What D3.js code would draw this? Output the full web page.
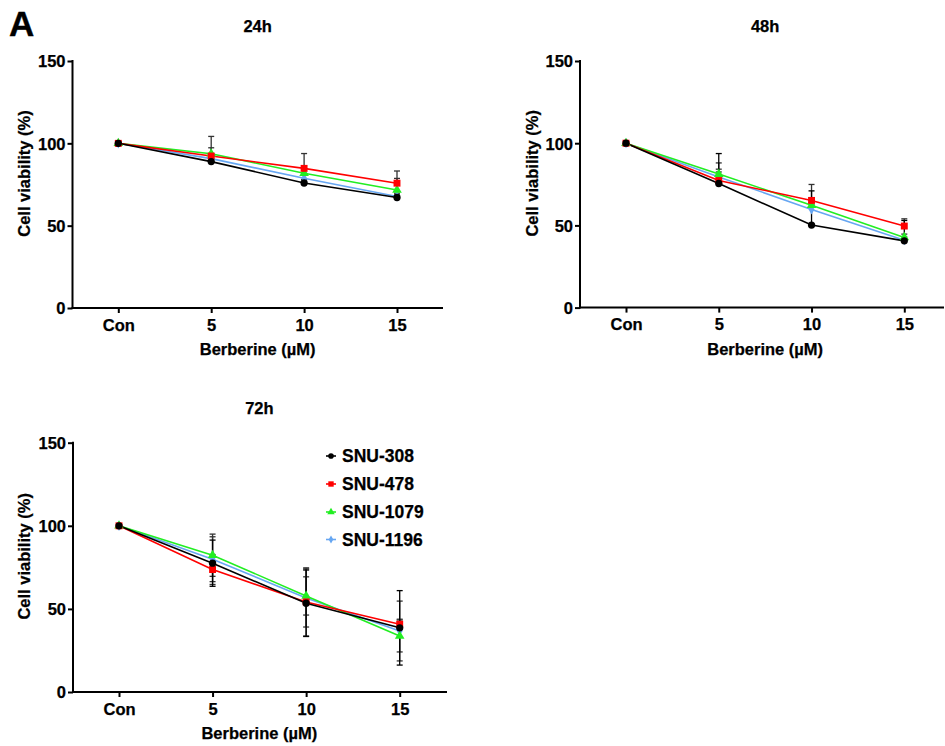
<!DOCTYPE html>
<html><head><meta charset="utf-8">
<script src="https://cdn.jsdelivr.net/npm/d3@7"></script>
<style>body{margin:0;background:#fff;} svg{display:block;} text{font-family:"Liberation Sans",Arial,sans-serif;font-weight:bold;fill:#000;stroke:#000;stroke-width:0.25px;}</style>
</head><body><svg id="c" width="945" height="746"></svg>
<script>
const categories = ["Con", "5", "10", "15"];
const seriesNames = ["SNU-308", "SNU-478", "SNU-1079", "SNU-1196"];
const yTicks = [0, 50, 100, 150];
const panelTitles = ["24h", "48h", "72h"];

// values: [SNU-308, SNU-478, SNU-1079, SNU-1196]
const values24h = [
  [100, 88.9, 75.9, 67.1],
  [100, 92.3, 84.8, 75.8],
  [100, 93.7, 81.8, 71.7],
  [100, 90.7, 78.8, 67.7]
];
const err24h = [
  [0, 2, 2, 1.5],
  [0, 5, 9, 7.4],
  [0, 10.5, 3, 7],
  [0, 3, 3, 2]
];
const values48h = [
  [100, 75.5, 50.2, 40.6],
  [100, 77.3, 65.2, 49.6],
  [100, 81.2, 62.3, 42.7],
  [100, 79.5, 59.7, 41.0]
];
const err48h = [
  [0, 18.2, 20.8, 12.4],
  [0, 10.7, 9.7, 4.4],
  [0, 3, 3, 2],
  [0, 3, 3, 2]
];
const values72h = [
  [100, 77.5, 53.4, 38.6],
  [100, 73.7, 54.2, 40.8],
  [100, 82.3, 57.8, 33.7],
  [100, 79.9, 56.6, 36.7]
];
const err72h = [
  [0, 13.9, 20, 22.4],
  [0, 9, 20.5, 3],
  [0, 12.7, 11.5, 9.6],
  [0, 13.5, 17.5, 18]
];

const colors = ["#000000", "#ff0000", "#22ee22", "#66a6f2"];
const shapes = [d3.symbolCircle, d3.symbolSquare, d3.symbolTriangle, d3.symbolDiamond];
const shapeSizes = [42, 48, 40, 30];

const panels = [
  {title: panelTitles[0], values: values24h, errs: err24h, both: false,
   left: 72.5, right: 443, top: 61, bottom: 308, xFirst: 118.3, xLast: 397, ylab: 24},
  {title: panelTitles[1], values: values48h, errs: err48h, both: false,
   left: 580, right: 944, top: 61, bottom: 307.6, xFirst: 626, xLast: 904.3, ylab: 532},
  {title: panelTitles[2], values: values72h, errs: err72h, both: true,
   left: 73, right: 447, top: 442.7, bottom: 692, xFirst: 119, xLast: 399.7, ylab: 24}
];

const svg = d3.select("#c");

svg.append("text").attr("x", 9).attr("y", 36).style("font-size", "35px").style("stroke-width", "0.4px").text("A");

panels.forEach((p, pi) => {
  const g = svg.append("g");
  const x = d3.scalePoint().domain(categories).range([p.xFirst, p.xLast]);
  const y = d3.scaleLinear().domain([0, 150]).range([p.bottom, p.top]);

  // title
  g.append("text").attr("x", (p.xFirst + p.xLast) / 2).attr("y", p.top - 29)
    .attr("text-anchor", "middle").style("font-size", "16.5px").text(p.title);

  // y axis
  const yAxis = d3.axisLeft(y).tickValues(yTicks).tickSize(5).tickPadding(2);
  const ya = g.append("g").attr("transform", `translate(${p.left},0)`).call(yAxis);
  ya.select(".domain").remove();
  ya.selectAll(".tick line").attr("stroke", "#000").attr("stroke-width", 2);
  ya.selectAll(".tick text").style("font-size", "16.5px").attr("dy", "0.36em");
  g.append("line").attr("x1", p.left).attr("x2", p.left).attr("y1", p.top - 1).attr("y2", p.bottom + 1)
    .attr("stroke", "#000").attr("stroke-width", 2);

  // x axis
  const xAxis = d3.axisBottom(x).tickSize(5).tickPadding(6);
  const xa = g.append("g").attr("transform", `translate(0,${p.bottom})`).call(xAxis);
  xa.select(".domain").remove();
  xa.selectAll(".tick line").attr("stroke", "#000").attr("stroke-width", 2);
  xa.selectAll(".tick text").style("font-size", "16.5px");
  g.append("line").attr("x1", p.left - 1).attr("x2", p.right).attr("y1", p.bottom).attr("y2", p.bottom)
    .attr("stroke", "#000").attr("stroke-width", 2);

  // axis labels
  g.append("text").attr("x", (p.xFirst + p.xLast) / 2).attr("y", p.bottom + 47)
    .attr("text-anchor", "middle").style("font-size", "16.5px").text("Berberine (\u00b5M)");
  g.append("text").attr("transform", `translate(${p.ylab},${(p.top + p.bottom) / 2 - 11}) rotate(-90)`)
    .attr("text-anchor", "middle").attr("dy", "0.35em").style("font-size", "16.5px").text("Cell viability  (%)");

  const order = [3, 2, 1, 0];
  // error bars
  order.forEach(si => {
    p.values[si].forEach((v, i) => {
      const e = p.errs[si][i];
      if (!e) return;
      const cx = x(categories[i]);
      const yt = y(v + e), yb = p.both ? y(v - e) : y(v);
      const eg = g.append("g").attr("stroke", si === 0 ? "#000" : "#333").attr("stroke-width", 1.3);
      eg.append("line").attr("x1", cx).attr("x2", cx).attr("y1", yt).attr("y2", yb);
      eg.append("line").attr("x1", cx - 3).attr("x2", cx + 3).attr("y1", yt).attr("y2", yt);
      if (p.both) eg.append("line").attr("x1", cx - 3).attr("x2", cx + 3).attr("y1", yb).attr("y2", yb);
    });
  });

  // lines
  const line = d3.line().x((d, i) => x(categories[i])).y(d => y(d));
  order.forEach(si => {
    g.append("path").datum(p.values[si]).attr("d", line).attr("fill", "none")
      .attr("stroke", colors[si]).attr("stroke-width", 1.6);
  });
  order.forEach(si => {
    g.selectAll(null).data(p.values[si]).enter().append("path")
      .attr("transform", (d, i) => `translate(${x(categories[i])},${y(d)})`)
      .attr("d", d3.symbol().type(shapes[si]).size(shapeSizes[si]))
      .attr("fill", colors[si]);
  });
});

// legend
const lg = svg.append("g");
const legendY = [456, 484, 512, 539.5];
seriesNames.forEach((n, i) => {
  lg.append("line").attr("x1", 326).attr("x2", 336).attr("y1", legendY[i]).attr("y2", legendY[i])
    .attr("stroke", colors[i]).attr("stroke-width", 1.6);
  lg.append("path").attr("transform", `translate(331,${legendY[i]})`)
    .attr("d", d3.symbol().type(shapes[i]).size(shapeSizes[i] * 0.6)).attr("fill", colors[i]);
  lg.append("text").attr("x", 342).attr("y", legendY[i]).attr("dy", "0.36em")
    .style("font-size", "17.5px").text(n);
});
</script></body></html>
